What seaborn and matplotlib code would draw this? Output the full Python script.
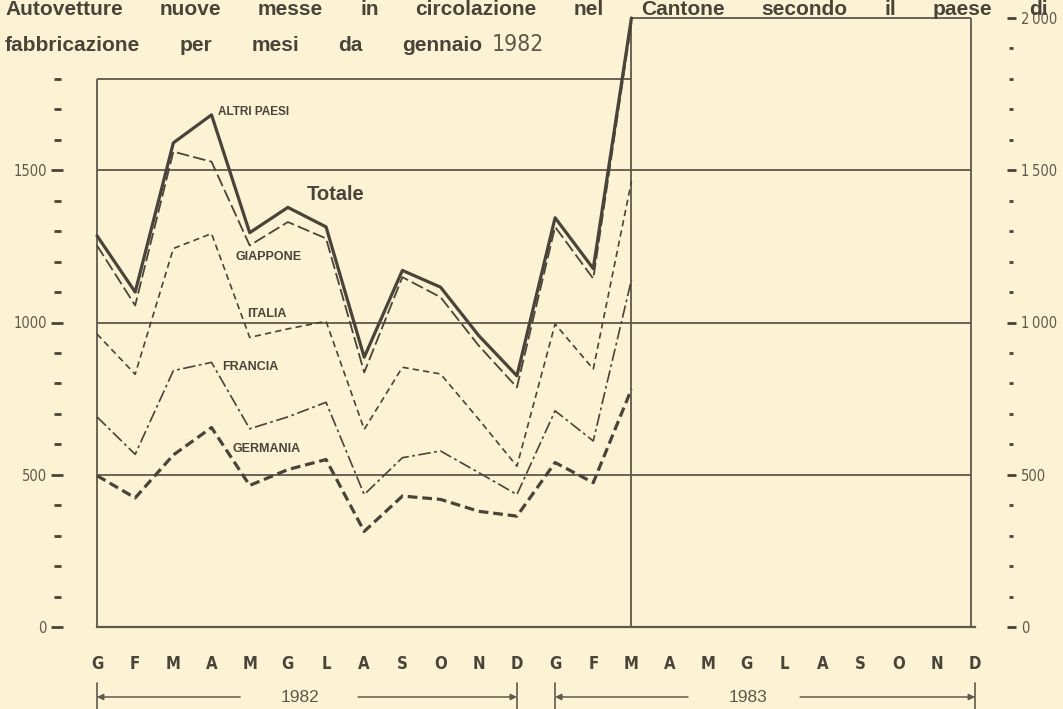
import numpy as np
import pandas as pd
import matplotlib
matplotlib.use("Agg")
import matplotlib.pyplot as plt
import seaborn as sns
from matplotlib import font_manager as fm
from matplotlib import transforms as mtrans

# ---------------- data ----------------
months = ['G', 'F', 'M', 'A', 'M', 'G', 'L', 'A', 'S', 'O', 'N', 'D']
tick_labels = months + months
years = ['1982', '1983']

# cumulative levels (Germania, +Francia, +Italia, +Giappone, Totale) Jan 1982 - Mar 1983
totale   = [1285, 1100, 1590, 1682, 1295, 1378, 1314, 886, 1171, 1116, 957, 825, 1344, 1177, 2000]
giappone = [1253, 1056, 1561, 1528, 1253, 1330, 1276, 836, 1149, 1083, 924, 787, 1314, 1144, 1985]
italia   = [962, 830, 1243, 1292, 951, 979, 1004, 649, 853, 831, 682, 528, 995, 847, 1463]
francia  = [690, 567, 842, 869, 651, 690, 738, 435, 556, 578, 507, 435, 710, 611, 1140]
germania = [497, 424, 565, 655, 465, 517, 550, 314, 430, 419, 380, 364, 540, 474, 781]
month_index = list(range(len(totale)))

left_ticks = [0, 500, 1000, 1500]
left_labels = ['0', '500', '1000', '1500']
right_ticks = [0, 500, 1000, 1500, 2000]
right_labels = ['0', '500', '1\u2009000', '1\u2009500', '2\u2009000']

title1 = "Autovetture nuove messe in circolazione nel Cantone secondo il paese di"
title2 = "fabbricazione per mesi da gennaio"
title2_year = "1982"

# ---------------- style ----------------
sns.set_style("white")
avail = {f.name for f in fm.fontManager.ttflist}
narrow = 'Liberation Sans Narrow' if 'Liberation Sans Narrow' in avail else 'DejaVu Sans'
sansb = 'Liberation Sans' if 'Liberation Sans' in avail else 'DejaVu Sans'
plt.rcParams['font.family'] = [sansb, 'DejaVu Sans']
plt.rcParams['lines.scale_dashes'] = False

bg = '#fbf3d3'
ink = '#48443a'
grey = '#5e594d'

W, H = 1063, 709
PT = 0.72  # points per pixel at 100 dpi
fig = plt.figure(figsize=(W / 100, H / 100), dpi=100, facecolor=bg)


def px(x0, y0, x1, y1):
    return [x0 / W, 1 - y1 / H, (x1 - x0) / W, (y1 - y0) / H]


ax = fig.add_axes(px(97, 18, 975, 627))
ax.set_facecolor(bg)
ax.set_xlim(0, 23)
ax.set_ylim(0, 2000)

# frame and grid
fl = dict(color=grey, lw=1.3, clip_on=False, zorder=1)
ax.vlines(0, 0, 1800, **fl)
ax.hlines(1800, 0, 14, **fl)
ax.vlines(14, 0, 2000, **fl)
ax.hlines(2000, 14, 22.9, **fl)
ax.vlines(22.9, 0, 2000, **fl)
ax.hlines([500, 1000, 1500], 0, 22.9, **fl)

# series
series = [
    (totale,   dict(lw=2.3, linestyle='-')),
    (giappone, dict(lw=1.3, linestyle=(0, (9, 3)))),
    (italia,   dict(lw=1.2, linestyle=(0, (4.5, 3)))),
    (francia,  dict(lw=1.2, linestyle=(0, (9, 2.5, 2, 2.5)))),
    (germania, dict(lw=2.3, linestyle=(0, (7, 3.5)))),
]
for vals, kw in series:
    sns.lineplot(x=month_index, y=vals, ax=ax, color=ink, legend=False,
                 zorder=3, clip_on=False, **kw)

# labels on lines
ax.text(3.17, 1690, 'ALTRI PAESI', fontsize=8.5, fontweight='bold', color=ink, va='center')
ax.text(5.5, 1421, 'Totale', fontsize=14.5, fontweight='bold', color=ink, va='center')
ax.text(3.62, 1216, 'GIAPPONE', fontsize=9, fontweight='bold', color=ink, va='center')
ax.text(3.93, 1028, 'ITALIA', fontsize=9, fontweight='bold', color=ink, va='center')
ax.text(3.27, 854, 'FRANCIA', fontsize=9, fontweight='bold', color=ink, va='center')
ax.text(3.54, 583, 'GERMANIA', fontsize=9, fontweight='bold', color=ink, va='center')

# spines
for s in ['top', 'right', 'left']:
    ax.spines[s].set_visible(False)
ax.spines['bottom'].set_color(grey)
ax.spines['bottom'].set_linewidth(1.6)

# x axis
ax.set_xticks(range(24))
ax.set_xticklabels(tick_labels, fontsize=12, fontweight='bold', color=ink,
                   family=[narrow, 'DejaVu Sans'], fontstretch='condensed')
ax.tick_params(axis='x', direction='inout', length=6, width=1.5, color=grey, pad=17)

# left y axis (tick dashes centred about 40 px left of the frame)
ax.spines['left'].set_position(('outward', 40 * PT))
ax.set_yticks(left_ticks)
ax.set_yticks(range(0, 1900, 100), minor=True)
ax.set_yticklabels(left_labels, fontsize=10.5, color=grey,
                   family=[narrow, 'DejaVu Sans'], fontstretch='condensed')
ax.tick_params(axis='y', which='major', direction='inout', length=12 * PT, width=2, color=ink, pad=3)
ax.tick_params(axis='y', which='minor', direction='inout', length=7 * PT, width=2, color=ink)

# right y axis
ax2 = ax.twinx()
ax2.set_ylim(0, 2000)
for s in ['top', 'bottom', 'left', 'right']:
    ax2.spines[s].set_visible(False)
ax2.spines['right'].set_position(('outward', 36 * PT))
ax2.set_yticks(right_ticks)
ax2.set_yticks(range(0, 2100, 100), minor=True)
ax2.set_yticklabels(right_labels, fontsize=10.5, color=grey,
                    family=[narrow, 'DejaVu Sans'], fontstretch='condensed')
ax2.tick_params(axis='y', which='major', direction='inout', length=9 * PT, width=2, color=ink, pad=4)
ax2.tick_params(axis='y', which='minor', direction='inout', length=5 * PT, width=2, color=ink)

# year brackets
tr = mtrans.blended_transform_factory(ax.transData, fig.transFigure)
yb0, yb1 = 1 - 709 / H, 1 - 683 / H
ya = 1 - 697 / H
for xb in [0, 11, 12, 23]:
    fig.add_artist(plt.Line2D([xb, xb], [yb0, yb1], transform=tr, color=grey, lw=1.2))
arrow_kw = dict(arrowstyle='-|>', color=grey, lw=1.1, mutation_scale=9, shrinkA=0, shrinkB=0)
brackets = [(0, 3.75, 5.32, 6.84, 11), (12, 15.48, 17.06, 18.42, 23)]
for yr, (xl, xlt, xt, xrt, xr) in zip(years, brackets):
    ax.annotate('', xy=(xl, ya), xytext=(xlt, ya), xycoords=tr, textcoords=tr, arrowprops=arrow_kw)
    ax.annotate('', xy=(xr, ya), xytext=(xrt, ya), xycoords=tr, textcoords=tr, arrowprops=arrow_kw)
    ax.text(xt, ya, yr, transform=tr, ha='center', va='center', fontsize=12.5, color=grey,
            family=[sansb, 'DejaVu Sans'])


def justify(text, x0, x1, ybase, fs):
    """Place the words of a title line evenly between x0 and x1 (pixels)."""
    ws = text.split()
    objs = [fig.text(0, 1 - ybase / H, w, fontsize=fs, fontweight='bold', color=ink,
                     va='baseline') for w in ws]
    wid = [o.get_window_extent(renderer).width for o in objs]
    g = (x1 - x0 - sum(wid)) / (len(ws) - 1)
    xp = x0
    for o, wd in zip(objs, wid):
        o.set_x(xp / W)
        xp += wd + g


fig.canvas.draw()
renderer = fig.canvas.get_renderer()
TFS = 15
justify(title1, 5, 1048, 15, TFS)
justify(title2, 5, 482, 51, TFS)
fig.text(492 / W, 1 - 51 / H, title2_year, fontsize=16.5, color=grey,
         va='baseline', family=[narrow, 'DejaVu Sans'], fontstretch='condensed')

fig.savefig('out.png', dpi=100, facecolor=bg)
